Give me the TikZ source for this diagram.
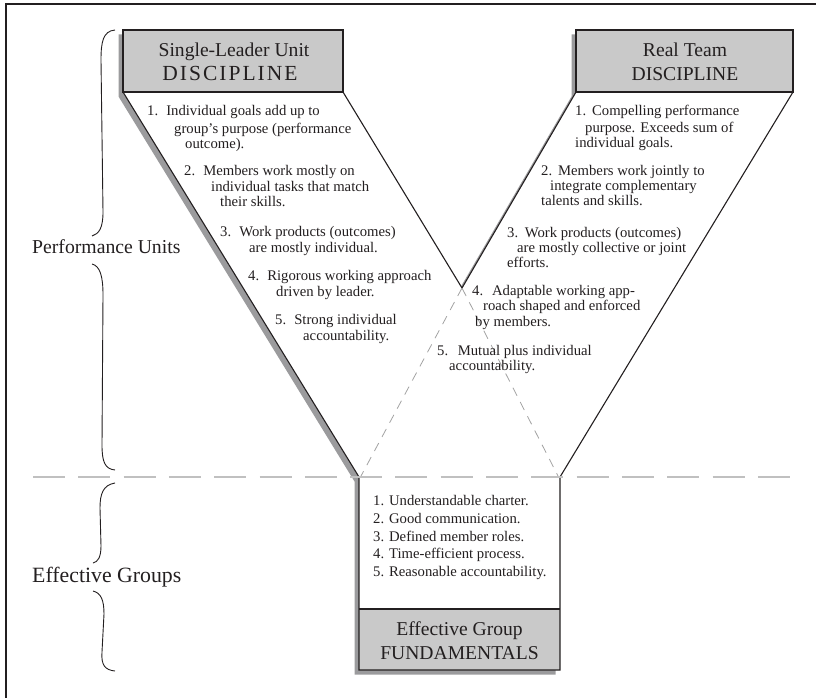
\documentclass[tikz,border=0pt]{standalone}
\usepackage{fontspec}
\setmainfont{Liberation Serif}
\definecolor{hdrgray}{RGB}{201,201,201}
\definecolor{shadowgray}{RGB}{155,155,157}
\definecolor{dashgray}{RGB}{192,192,192}
\definecolor{inkc}{RGB}{35,31,32}
\begin{document}
\begin{tikzpicture}[x=1pt,y=-1pt,
  itm/.style={anchor=base west, inner sep=0pt, text=inkc, font=\fontsize{14.7}{17}\selectfont},
  hdr/.style={anchor=base, inner sep=0pt, text=inkc, font=\fontsize{19.6}{23}\selectfont},
  sidelbl/.style={anchor=base west, inner sep=0pt, text=inkc},
  edgeline/.style={draw=inkc, line width=1.1pt},
  thindash/.style={draw=dashgray!85!black, line width=0.8pt, dash pattern=on 9pt off 7pt},
  hdash/.style={draw=dashgray, line width=2pt, dash pattern=on 32pt off 13.3pt},
  bracelinestyle/.style={draw=inkc, line width=0.9pt},
  frameline/.style={draw=inkc, line width=1.5pt}]
\useasboundingbox (0,0) rectangle (816,698);
% frame
\draw[frameline] (6,698) -- (6,4) -- (816,4);
% shadow of the whole Y shape
\begin{scope}[shift={(-4.5,4.5)}]
\fill[shadowgray] (123,30) -- (343,30) -- (343,92) -- (462,288) -- (576,92) -- (576,30) -- (793,30) -- (793,92) -- (560,477) -- (560,670) -- (359,670) -- (359,477) -- (123,92) -- cycle;
\end{scope}
\fill[white] (123,30) -- (343,30) -- (343,92) -- (462,288) -- (576,92) -- (576,30) -- (793,30) -- (793,92) -- (560,477) -- (560,670) -- (359,670) -- (359,477) -- (123,92) -- cycle;
% named corners
\coordinate (lh1) at (123,30); \coordinate (lh3) at (343,92); \coordinate (lh4) at (123,92);
\coordinate (V) at (462,288);
\coordinate (rh1) at (576,30); \coordinate (rh3) at (793,92); \coordinate (rh4) at (576,92);
\coordinate (b1) at (359,477); \coordinate (b2) at (560,477);
\coordinate (b3) at (560,670); \coordinate (b4) at (359,670);
\coordinate (s1) at (359,609); \coordinate (s2) at (560,609);
% gray boxes
\fill[hdrgray] (lh1) rectangle (lh3);
\fill[hdrgray] (rh1) rectangle (rh3);
\fill[hdrgray] (s1) rectangle (b3);
% outlines
\draw[edgeline] (lh1) rectangle (lh3);
\draw[edgeline] (rh1) rectangle (rh3);
\draw[edgeline] (lh4) -- (b1) -- (b4) -- (b3) -- (b2) -- (rh3);
\draw[edgeline] (lh3) -- (V) -- (rh4);
\draw[edgeline] (s1) -- (s2);
% thin dashed continuations
\draw[thindash] (V) -- (361,476);
\draw[thindash] (V) -- (558,476);
% horizontal dashed line
\coordinate (hl) at (33,476.5); \coordinate (hr) at (792,476.5);
\draw[hdash] (hl) -- (hr);
% braces
\draw[bracelinestyle] (115,30) .. controls (103,31) and (101,42) .. (101,60) -- (103,212) .. controls (103,228) and (99,234) .. (92,236);
\draw[bracelinestyle] (92,264) .. controls (100,266) and (103,276) .. (103,295) -- (102,445) .. controls (102,462) and (105,469) .. (115,470);
\draw[bracelinestyle] (115,483) .. controls (103,485) and (100,494) .. (100,508) -- (101,546) .. controls (101,557) and (98,562) .. (93,563);
\draw[bracelinestyle] (93,591) .. controls (101,593) and (104,600) .. (104,614) -- (102,652) .. controls (101,665) and (105,670) .. (115,671);
% side labels
\node[sidelbl, font=\fontsize{19.7}{23}\selectfont] (perf) at (32,253) {Performance Units};
\node[sidelbl, font=\fontsize{21.8}{25}\selectfont] (effg) at (32,582) {Effective Groups};
% headers
\node[hdr] (lhA) at (234,57) {Single-Leader Unit};
\node[hdr, font=\fontsize{21.5}{25}\selectfont] (lhB) at (230,81) {D\kern2pt I\kern2pt S\kern2pt C\kern2pt I\kern2pt P\kern2pt L\kern2pt I\kern2pt N\kern2pt E};
\node[hdr] (rhA) at (685,57) {Real Team};
\node[hdr] (rhB) at (685,81) {DISCIPLINE};
\node[hdr] (bhA) at (459.5,635) {Effective Group};
\node[hdr] (bhB) at (459.5,659) {FUNDAMENTALS};
% left arm items
\node[itm] (la1) at (147,116) {1.\hspace{0.55em}Individual goals add up to};
\node[itm] (la2) at (174,133) {group's purpose (performance};
\node[itm] (la3) at (185,148) {outcome).};
\node[itm] (lb1) at (184,175) {2.\hspace{0.55em}Members work mostly on};
\node[itm] (lb2) at (211,191) {individual tasks that match};
\node[itm] (lb3) at (220,206) {their skills.};
\node[itm] (lc1) at (220,236) {3.\hspace{0.55em}Work products (outcomes)};
\node[itm] (lc2) at (249,252) {are mostly individual.};
\node[itm] (ld1) at (248,280) {4.\hspace{0.55em}Rigorous working approach};
\node[itm] (ld2) at (276,296) {driven by leader.};
\node[itm] (le1) at (275,324) {5.\hspace{0.55em}Strong individual};
\node[itm] (le2) at (303,340) {accountability.};
% right arm items
\node[itm] (ra1) at (575,116) {1.\hspace{0.4em}Compelling performance};
\node[itm] (ra2) at (585,132) {purpose. Exceeds sum of};
\node[itm] (ra3) at (575,147) {individual goals.};
\node[itm] (rb1) at (541,175) {2.\hspace{0.4em}Members work jointly to};
\node[itm] (rb2) at (550,190) {integrate complementary};
\node[itm] (rb3) at (541,205) {talents and skills.};
\node[itm] (rc1) at (507,237) {3.\hspace{0.45em}Work products (outcomes)};
\node[itm] (rc2) at (517,252) {are mostly collective or joint};
\node[itm] (rc3) at (507,267) {efforts.};
\node[itm] (rd1) at (472,295) {4.\hspace{0.6em}Adaptable working app-};
\node[itm] (rd2) at (483,310) {roach shaped and enforced};
\node[itm] (rd3) at (475,326) {by members.};
\node[itm] (re1) at (437,355) {5.\hspace{0.65em}Mutual plus individual};
\node[itm] (re2) at (449,370) {accountability.};
% bottom box items
\node[itm] (ba) at (373,505) {1. Understandable charter.};
\node[itm] (bb) at (373,523) {2. Good communication.};
\node[itm] (bc) at (373,541) {3. Defined member roles.};
\node[itm] (bd) at (373,558) {4. Time-efficient process.};
\node[itm] (be) at (373,576) {5. Reasonable accountability.};
\end{tikzpicture}
\end{document}
